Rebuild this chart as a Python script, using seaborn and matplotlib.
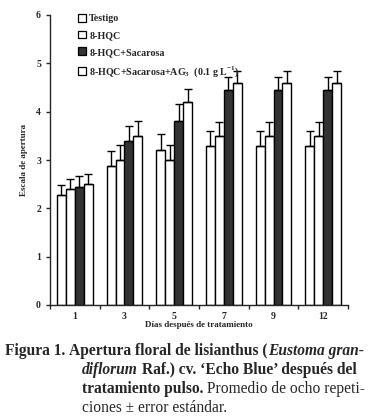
import numpy as np
import pandas as pd
import seaborn as sns
import matplotlib.pyplot as plt
from matplotlib.patches import Patch

sns.set_style("ticks")
plt.rcParams['font.family'] = ['Liberation Serif', 'DejaVu Serif']
plt.rcParams['mathtext.fontset'] = 'custom'
plt.rcParams['mathtext.rm'] = 'Liberation Serif'
plt.rcParams['mathtext.bf'] = 'Liberation Serif:bold'

dias = ["1", "3", "5", "7", "9", "12"]
tratamientos = ["Testigo", "8-HQC", "8-HQC+Sacarosa",
                r"8-HQC+Sacarosa+AG$_\mathbf{3}$  (0.1 g L$^\mathbf{-1}$)"]
testigo = [2.28, 2.88, 3.21, 3.29, 3.29, 3.29]
hqc = [2.39, 3.0, 3.01, 3.5, 3.5, 3.5]
hqc_sac = [2.44, 3.39, 3.81, 4.45, 4.45, 4.45]
hqc_sac_ag = [2.5, 3.5, 4.21, 4.59, 4.59, 4.59]
err_testigo = [0.2, 0.31, 0.32, 0.31, 0.31, 0.31]
err_hqc = [0.22, 0.32, 0.3, 0.29, 0.29, 0.29]
err_hqc_sac = [0.22, 0.31, 0.34, 0.27, 0.27, 0.27]
err_hqc_sac_ag = [0.22, 0.31, 0.26, 0.26, 0.26, 0.26]

valores = [testigo, hqc, hqc_sac, hqc_sac_ag]
errores = [err_testigo, err_hqc, err_hqc_sac, err_hqc_sac_ag]
colores = ["white", "white", "#333333", "white"]

df = pd.DataFrame({
    "dia": dias * 4,
    "trat": [t for t in tratamientos for _ in dias],
    "valor": sum(valores, []),
})

fig = plt.figure(figsize=(3.74, 4.2), dpi=100)
ax = fig.add_axes([50 / 374, 1 - 305 / 420, 298 / 374, 290 / 420])

sns.barplot(data=df, x="dia", y="valor", hue="trat", order=dias,
            hue_order=tratamientos, palette=colores, edgecolor="black",
            linewidth=1.0, width=0.72, errorbar=None, legend=False, ax=ax)

for cont, err in zip(ax.containers, errores):
    xs = [b.get_x() + b.get_width() / 2 for b in cont]
    ys = [b.get_height() for b in cont]
    ax.errorbar(xs, ys, yerr=[np.zeros(len(err)), err], fmt="none",
                ecolor="black", elinewidth=1.0, capsize=3.2, capthick=1.0)

ax.set_ylim(0, 6)
ax.set_xlim(-0.5, 5.5)
ax.set_yticks(range(7))
ax.set_yticklabels([str(i) for i in range(7)], fontsize=7, fontweight="bold")
ax.set_xticks(range(len(dias)))
ax.set_xticklabels(dias, fontsize=7, fontweight="bold")
ax.tick_params(axis="x", which="major", length=0, pad=5)
ax.set_xticks(np.arange(-0.5, 6, 1), minor=True)
ax.tick_params(axis="x", which="minor", length=3, width=1)
ax.tick_params(axis="y", length=3, width=1)
sns.despine(ax=ax)
for s in ["left", "bottom"]:
    ax.spines[s].set_linewidth(1.0)
ax.set_ylabel("Escala de apertura", fontsize=6.5, fontweight="bold", labelpad=6)
ax.set_xlabel("Días después de tratamiento", fontsize=6.5, fontweight="bold", labelpad=0)

handles = [Patch(facecolor=c, edgecolor="black", linewidth=0.9) for c in colores]
ax.legend(handles, tratamientos, loc="upper left", bbox_to_anchor=(0.065, 1.035),
          frameon=False, prop={"size": 7.2, "weight": "bold"},
          handlelength=0.8, handleheight=0.8, handletextpad=0.3, labelspacing=0.75)

# pie de figura
fs = 11.2
renderer = fig.canvas.get_renderer()

def linea(x, y, partes):
    for texto, estilo in partes:
        t = fig.text(x / 374, 1 - y / 420, texto, fontsize=fs,
                     fontweight="bold" if "b" in estilo else "normal",
                     fontstyle="italic" if "i" in estilo else "normal",
                     va="baseline", ha="left")
        x += t.get_window_extent(renderer).width

linea(5, 355, [("Figura 1. ", "b"), ("Apertura floral de lisianthus (", "b"),
               ("Eustoma gran-", "bi")])
linea(82, 374, [("diflorum", "bi"), (" Raf.) cv. ‘Echo Blue’ después del", "b")])
linea(82, 393, [("tratamiento pulso.", "b"), (" Promedio de ocho repeti-", "")])
linea(82, 412, [("ciones ± error estándar.", "")])

fig.savefig("out.png", dpi=100)
